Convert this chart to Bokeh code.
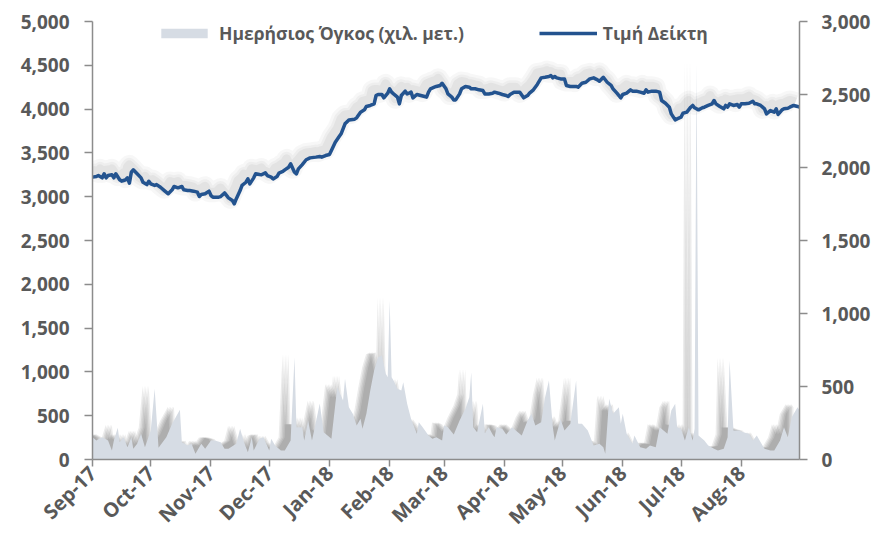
import math
import pandas as pd
from bokeh.plotting import figure
from bokeh.models import (Range1d, LinearAxis, FixedTicker, NumeralTickFormatter,
                          DatetimeTickFormatter, Legend, LegendItem, ColumnDataSource)
from bokeh.embed import file_html
from bokeh.resources import INLINE

# ---------------- data ----------------
legend_labels = ["Ημερήσιος Όγκος (χιλ. μετ.)", "Τιμή Δείκτη"]

month_ticks = ["2017-09-01", "2017-10-01", "2017-11-01", "2017-12-01", "2018-01-01", "2018-02-01",
               "2018-03-01", "2018-04-01", "2018-05-01", "2018-06-01", "2018-07-01", "2018-08-01"]

price_dates = [
    "2017-09-01", "2017-09-03", "2017-09-04", "2017-09-06", "2017-09-07", "2017-09-08", "2017-09-09",
    "2017-09-11", "2017-09-12", "2017-09-13", "2017-09-15", "2017-09-16", "2017-09-17", "2017-09-18",
    "2017-09-19", "2017-09-20", "2017-09-21", "2017-09-22", "2017-09-24", "2017-09-26", "2017-09-27",
    "2017-09-29", "2017-09-30",
    "2017-10-01", "2017-10-03", "2017-10-04", "2017-10-06", "2017-10-08", "2017-10-10", "2017-10-12",
    "2017-10-13", "2017-10-15", "2017-10-17", "2017-10-18", "2017-10-20", "2017-10-21", "2017-10-23",
    "2017-10-25", "2017-10-26", "2017-10-27", "2017-10-29", "2017-10-31",
    "2017-11-01", "2017-11-02", "2017-11-03", "2017-11-05", "2017-11-06", "2017-11-08", "2017-11-10",
    "2017-11-12", "2017-11-13", "2017-11-14", "2017-11-16", "2017-11-17", "2017-11-19", "2017-11-20",
    "2017-11-21", "2017-11-23", "2017-11-24", "2017-11-26", "2017-11-27", "2017-11-29", "2017-11-30",
    "2017-12-02", "2017-12-03", "2017-12-05", "2017-12-06", "2017-12-08", "2017-12-09", "2017-12-11",
    "2017-12-12", "2017-12-14", "2017-12-15", "2017-12-16", "2017-12-18", "2017-12-20", "2017-12-22",
    "2017-12-25", "2017-12-27", "2017-12-28", "2017-12-30",
    "2018-01-01", "2018-01-02", "2018-01-04", "2018-01-06", "2018-01-07", "2018-01-09", "2018-01-11",
    "2018-01-14", "2018-01-15", "2018-01-17", "2018-01-19", "2018-01-20", "2018-01-22", "2018-01-24",
    "2018-01-25", "2018-01-26", "2018-01-28", "2018-01-29", "2018-01-31",
    "2018-02-01", "2018-02-02", "2018-02-03", "2018-02-05", "2018-02-06", "2018-02-07", "2018-02-09",
    "2018-02-10", "2018-02-11", "2018-02-12", "2018-02-13", "2018-02-15", "2018-02-17", "2018-02-19",
    "2018-02-20", "2018-02-21", "2018-02-22", "2018-02-24", "2018-02-25", "2018-02-27", "2018-02-28",
    "2018-03-02", "2018-03-03", "2018-03-05", "2018-03-06", "2018-03-07", "2018-03-09", "2018-03-10",
    "2018-03-12", "2018-03-14", "2018-03-15", "2018-03-17", "2018-03-19", "2018-03-21", "2018-03-22",
    "2018-03-24", "2018-03-26", "2018-03-27", "2018-03-29", "2018-03-31",
    "2018-04-02", "2018-04-03", "2018-04-04", "2018-04-06", "2018-04-08", "2018-04-09", "2018-04-11",
    "2018-04-13", "2018-04-14", "2018-04-16", "2018-04-18", "2018-04-19", "2018-04-20", "2018-04-22",
    "2018-04-24", "2018-04-25", "2018-04-26", "2018-04-27", "2018-04-28", "2018-04-30",
    "2018-05-02", "2018-05-03", "2018-05-05", "2018-05-08", "2018-05-09", "2018-05-11", "2018-05-13",
    "2018-05-15", "2018-05-17", "2018-05-19", "2018-05-20", "2018-05-22", "2018-05-24", "2018-05-26",
    "2018-05-27", "2018-05-29", "2018-05-31",
    "2018-06-01", "2018-06-03", "2018-06-05", "2018-06-06", "2018-06-08", "2018-06-10", "2018-06-12",
    "2018-06-13", "2018-06-14", "2018-06-16", "2018-06-18", "2018-06-20", "2018-06-21", "2018-06-23",
    "2018-06-25", "2018-06-26", "2018-06-28", "2018-06-29",
    "2018-07-01", "2018-07-02", "2018-07-04", "2018-07-06", "2018-07-07", "2018-07-08", "2018-07-10",
    "2018-07-12", "2018-07-13", "2018-07-15", "2018-07-17", "2018-07-18", "2018-07-19", "2018-07-21",
    "2018-07-23", "2018-07-24", "2018-07-25", "2018-07-26", "2018-07-28", "2018-07-30", "2018-07-31",
    "2018-08-01", "2018-08-03", "2018-08-05", "2018-08-07", "2018-08-08", "2018-08-09", "2018-08-11",
    "2018-08-13", "2018-08-14", "2018-08-16", "2018-08-18", "2018-08-19", "2018-08-20", "2018-08-22",
    "2018-08-23", "2018-08-25", "2018-08-26", "2018-08-28", "2018-08-30", "2018-08-31"]

price_values = [
    1934, 1938, 1945, 1929, 1957, 1929, 1945, 1950, 1929, 1957, 1916, 1906, 1911, 1916, 1929, 1893,
    1968, 1984, 1957, 1929, 1899, 1883, 1906,
    1888, 1877, 1883, 1865, 1842, 1820, 1847, 1870, 1861, 1870, 1847, 1842, 1842, 1838, 1831, 1801,
    1815, 1820, 1838,
    1808, 1797, 1797, 1797, 1801, 1826, 1792, 1774, 1751, 1785, 1842, 1877, 1899, 1922, 1888, 1929,
    1957, 1952, 1950, 1963, 1945,
    1934, 1922, 1938, 1961, 1973, 1984, 2002, 2025, 1968, 1957, 1991, 2020, 2053, 2066, 2071, 2075,
    2071, 2082,
    2089, 2116, 2173, 2212, 2231, 2299, 2326, 2331, 2340, 2379, 2395, 2418, 2425, 2436, 2493, 2500,
    2500, 2477, 2509,
    2539, 2516, 2504, 2482, 2436, 2493, 2523, 2504, 2509, 2516, 2477, 2500, 2493, 2486, 2482, 2516,
    2539, 2550, 2555, 2562, 2577,
    2539, 2504, 2482, 2463, 2463, 2504, 2539, 2555, 2550, 2539, 2539, 2532, 2527, 2504, 2504, 2509,
    2516, 2509, 2500,
    2493, 2486, 2500, 2516, 2516, 2516, 2477, 2493, 2509, 2532, 2569, 2591, 2614, 2618, 2623, 2630,
    2614, 2623, 2614, 2607,
    2607, 2562, 2555, 2555, 2550, 2577, 2584, 2607, 2614, 2600, 2591, 2618, 2584, 2562, 2539, 2509,
    2477,
    2500, 2509, 2532, 2523, 2523, 2516, 2509, 2532, 2516, 2523, 2523, 2516, 2459, 2440, 2413, 2367,
    2326, 2333,
    2345, 2372, 2379, 2413, 2425, 2409, 2395, 2409, 2413, 2425, 2436, 2459, 2436, 2418, 2402, 2425,
    2413, 2436, 2425, 2431, 2413,
    2436, 2436, 2440, 2454, 2436, 2436, 2425, 2402, 2367, 2390, 2379, 2402, 2363, 2395, 2402, 2406,
    2413, 2425, 2418, 2413]

volume_dates = [
    "2017-09-01", "2017-09-03", "2017-09-06", "2017-09-09", "2017-09-11", "2017-09-12", "2017-09-14",
    "2017-09-15", "2017-09-17", "2017-09-19", "2017-09-21", "2017-09-22", "2017-09-24", "2017-09-26",
    "2017-09-28",
    "2017-10-01", "2017-10-03", "2017-10-05", "2017-10-09", "2017-10-12", "2017-10-16", "2017-10-17",
    "2017-10-20", "2017-10-22", "2017-10-24", "2017-10-27", "2017-10-29",
    "2017-11-01", "2017-11-03", "2017-11-06", "2017-11-08", "2017-11-10", "2017-11-14", "2017-11-16",
    "2017-11-18", "2017-11-20", "2017-11-22", "2017-11-23", "2017-11-26", "2017-11-28",
    "2017-12-01", "2017-12-02", "2017-12-04", "2017-12-07", "2017-12-09", "2017-12-12", "2017-12-14",
    "2017-12-15", "2017-12-18", "2017-12-19", "2017-12-21", "2017-12-23", "2017-12-25", "2017-12-27",
    "2017-12-29",
    "2018-01-02", "2018-01-05", "2018-01-08", "2018-01-09", "2018-01-11", "2018-01-13", "2018-01-15",
    "2018-01-17", "2018-01-18", "2018-01-20", "2018-01-22", "2018-01-24", "2018-01-26", "2018-01-28",
    "2018-01-30", "2018-01-31",
    "2018-02-01", "2018-02-02", "2018-02-03", "2018-02-05", "2018-02-07", "2018-02-08", "2018-02-10",
    "2018-02-12", "2018-02-13", "2018-02-15", "2018-02-16", "2018-02-18", "2018-02-21", "2018-02-23",
    "2018-02-25", "2018-02-28",
    "2018-03-01", "2018-03-03", "2018-03-06", "2018-03-09", "2018-03-12", "2018-03-14", "2018-03-15",
    "2018-03-16", "2018-03-18", "2018-03-21", "2018-03-22", "2018-03-24", "2018-03-26", "2018-03-27",
    "2018-03-28", "2018-03-31",
    "2018-04-02", "2018-04-05", "2018-04-08", "2018-04-10", "2018-04-13", "2018-04-15", "2018-04-17",
    "2018-04-20", "2018-04-22", "2018-04-24", "2018-04-26", "2018-04-27", "2018-04-30",
    "2018-05-02", "2018-05-05", "2018-05-08", "2018-05-09", "2018-05-11", "2018-05-14", "2018-05-17",
    "2018-05-20", "2018-05-22", "2018-05-23", "2018-05-25", "2018-05-27", "2018-05-30", "2018-05-31",
    "2018-06-01", "2018-06-03", "2018-06-06", "2018-06-07", "2018-06-10", "2018-06-13", "2018-06-15",
    "2018-06-18", "2018-06-20", "2018-06-24", "2018-06-26", "2018-06-28", "2018-06-29",
    "2018-07-01", "2018-07-03", "2018-07-05", "2018-07-07", "2018-07-08", "2018-07-09", "2018-07-10",
    "2018-07-13", "2018-07-15", "2018-07-18", "2018-07-20", "2018-07-23", "2018-07-25", "2018-07-26",
    "2018-07-28", "2018-07-31",
    "2018-08-02", "2018-08-05", "2018-08-07", "2018-08-09", "2018-08-11", "2018-08-13", "2018-08-16",
    "2018-08-18", "2018-08-21", "2018-08-23", "2018-08-25", "2018-08-27", "2018-08-30", "2018-08-31"]

volume_values = [
    255, 217, 255, 217, 103, 217, 362, 198, 255, 140, 255, 122, 179, 293, 140,
    331, 807, 134, 255, 408, 567, 198, 160, 179, 65, 179, 122,
    217, 217, 198, 122, 122, 179, 350, 198, 83, 255, 103, 236, 255,
    103, 236, 160, 103, 103, 217, 1168, 369, 369, 217, 445, 217, 426, 639, 312,
    236, 825, 674, 921, 597, 522, 388, 465, 350, 522, 788, 1016, 1168, 1187, 978, 940,
    1815, 940, 902, 807, 788, 882, 636, 465, 408, 293, 426, 369, 274, 236, 255, 217,
    388, 369, 285, 445, 579, 711, 997, 369, 312, 636, 300, 369, 285, 255, 369, 350,
    285, 369, 312, 274, 445, 522, 388, 426, 711, 902, 369, 217, 460,
    331, 408, 902, 408, 408, 331, 160, 179, 140, 65, 693, 522, 597, 408,
    522, 293, 179, 274, 140, 122, 160, 140, 369, 293, 559, 636, 369,
    350, 217, 369, 217, 350, 4532, 274, 217, 160, 122, 103, 122, 255, 1130, 331, 331,
    312, 293, 217, 274, 198, 122, 103, 103, 217, 369, 255, 483, 597, 559]

# ---------------- styling ----------------
LINE_COLOR = "#23538F"
AREA_COLOR = "#D6DCE4"
AXIS_COLOR = "#8C8C8C"
TEXT_COLOR = "#595959"
FONT = "Open Sans"

def ms(t):
    return pd.Timestamp(t).value / 1e6

x0 = ms("2017-09-01")
x1 = ms("2018-08-31")
FRAME_W, FRAME_H = 707, 438
ms_per_px = (x1 - x0) / FRAME_W

p = figure(width=879, height=542, x_axis_type="datetime", output_backend="svg",
           toolbar_location=None, x_range=Range1d(x0, x1), y_range=Range1d(0, 5000),
           min_border_left=92, min_border_right=80, min_border_top=21, min_border_bottom=83)
p.outline_line_color = None
p.xgrid.visible = False
p.ygrid.visible = False
p.background_fill_color = "white"

vol_per_px = 5000 / FRAME_H
price_per_px = 3000 / FRAME_H

p.extra_y_ranges = {
    "price": Range1d(0, 3000),
    "price_sh": Range1d(-5 * price_per_px, 3000 - 5 * price_per_px),
    "vol_sh": Range1d(-3 * vol_per_px, 5000 - 3 * vol_per_px),
}
shadow_offsets = [6, 7.5, 9, 10.5, 12]
p.extra_x_ranges = {"line_sh": Range1d(x0 + 4 * ms_per_px, x1 + 4 * ms_per_px)}
for k, off in enumerate(shadow_offsets):
    p.extra_x_ranges["vsh%d" % k] = Range1d(x0 + off * ms_per_px, x1 + off * ms_per_px)

vol_src = ColumnDataSource(dict(x=pd.to_datetime(volume_dates), v=volume_values))
price_src = ColumnDataSource(dict(x=pd.to_datetime(price_dates), v=price_values))

# soft shadow of the area (offset up-left, layered to imitate blur)
for k in range(len(shadow_offsets)):
    p.varea(x="x", y1=0, y2="v", source=vol_src, fill_color="#303030", fill_alpha=0.09,
            x_range_name="vsh%d" % k, y_range_name="vol_sh")

area = p.varea(x="x", y1=0, y2="v", source=vol_src, fill_color=AREA_COLOR, fill_alpha=1.0)

# soft shadow of the index line
for w, a in [(20, 0.03), (14, 0.035), (9, 0.045)]:
    p.line(x="x", y="v", source=price_src, line_color="black", line_alpha=a, line_width=w,
           line_join="round", x_range_name="line_sh", y_range_name="price_sh")

line = p.line(x="x", y="v", source=price_src, line_color=LINE_COLOR, line_width=3.5,
              line_join="round", y_range_name="price")

# ---------------- axes ----------------
def style_y(ax):
    ax.axis_line_color = AXIS_COLOR
    ax.axis_line_width = 1.5
    ax.major_tick_line_color = AXIS_COLOR
    ax.major_tick_line_width = 1.5
    ax.major_tick_out = 8
    ax.major_tick_in = 0
    ax.minor_tick_out = 0
    ax.minor_tick_in = 0
    ax.major_label_text_font = FONT
    ax.major_label_text_font_style = "bold"
    ax.major_label_text_font_size = "19px"
    ax.major_label_text_color = TEXT_COLOR
    ax.formatter = NumeralTickFormatter(format="0,0")

yl = p.yaxis[0]
style_y(yl)
yl.ticker = FixedTicker(ticks=list(range(0, 5001, 500)))
yl.major_label_standoff = 15

yr_axis = LinearAxis(y_range_name="price")
style_y(yr_axis)
yr_axis.ticker = FixedTicker(ticks=list(range(0, 3001, 500)))
yr_axis.major_label_standoff = 14
p.add_layout(yr_axis, "right")

xa = p.xaxis[0]
xa.ticker = FixedTicker(ticks=[ms(t) for t in month_ticks])
fmt = "%b-%y"
xa.formatter = DatetimeTickFormatter(microseconds=fmt, milliseconds=fmt, seconds=fmt, minsec=fmt,
                                     minutes=fmt, hourmin=fmt, hours=fmt, days=fmt, months=fmt,
                                     years=fmt)
xa.major_label_orientation = math.pi / 4
xa.axis_line_color = AXIS_COLOR
xa.axis_line_width = 1.5
xa.major_tick_line_color = AXIS_COLOR
xa.major_tick_line_width = 1.5
xa.major_tick_out = 7
xa.major_tick_in = 0
xa.minor_tick_out = 0
xa.minor_tick_in = 0
xa.major_label_text_font = FONT
xa.major_label_text_font_style = "bold"
xa.major_label_text_font_size = "20px"
xa.major_label_text_color = TEXT_COLOR
xa.major_label_standoff = 3

# ---------------- legend ----------------
legend = Legend(items=[LegendItem(label=legend_labels[0], renderers=[area]),
                       LegendItem(label=legend_labels[1], renderers=[line])],
                orientation="horizontal", location=(63, 414),
                background_fill_alpha=0, border_line_alpha=0,
                glyph_width=58, glyph_height=12, label_standoff=6, spacing=75,
                padding=0, margin=0,
                label_text_font=FONT, label_text_font_style="bold",
                label_text_font_size="17.5px", label_text_color=TEXT_COLOR)
p.add_layout(legend)

open("out.html", "w").write(file_html(p, INLINE))
